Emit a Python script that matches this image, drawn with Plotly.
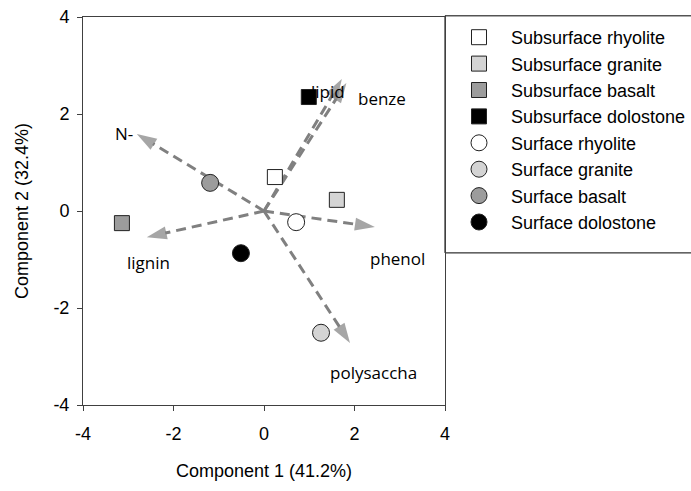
import plotly.graph_objects as go

# ---- data ----
sample_names = ["Subsurface rhyolite", "Subsurface granite", "Subsurface basalt", "Subsurface dolostone",
                "Surface rhyolite", "Surface granite", "Surface basalt", "Surface dolostone"]
sample_x = [0.24, 1.61, -3.14, 0.99, 0.71, 1.26, -1.19, -0.51]
sample_y = [0.70, 0.23, -0.25, 2.35, -0.23, -2.51, 0.58, -0.87]
sample_symbols = ["square", "square", "square", "square", "circle", "circle", "circle", "circle"]
sample_colors = ["#ffffff", "#d4d4d4", "#9c9c9c", "#000000", "#ffffff", "#d4d4d4", "#9c9c9c", "#000000"]

loading_names = ["N-", "lignin", "phenol", "polysaccha", "lipid", "benze"]
loading_x = [-2.81, -2.59, 2.45, 1.90, 1.72, 1.82]
loading_y = [1.59, -0.54, -0.33, -2.72, 2.72, 2.64]
label_x = [-3.09, -2.56, 2.96, 2.43, 1.41, 2.61]
label_y = [1.59, -1.07, -0.97, -3.34, 2.47, 2.31]

tick_vals = [-4, -2, 0, 2, 4]
tick_text = ["-4", "-2", "0", "2", "4"]

fig = go.Figure()

# loading arrows
for nm, lx, ly in zip(loading_names, loading_x, loading_y):
    fig.add_trace(go.Scatter(
        x=[0, lx], y=[0, ly], mode="lines+markers",
        line=dict(color="#808080", width=3, dash="10px,6px"),
        marker=dict(symbol=["circle", "arrow"], size=[0, 21], color="#808080",
                    angleref="previous", line=dict(width=0)),
        showlegend=False, hoverinfo="skip"))

# samples
for nm, sx, sy, sym, col in zip(sample_names, sample_x, sample_y, sample_symbols, sample_colors):
    fig.add_trace(go.Scatter(
        x=[sx], y=[sy], mode="markers", name=nm,
        marker=dict(symbol=sym, size=15 if sym == "square" else 17, color=col,
                    line=dict(color="#222222", width=1))))

for nm, tx, ty in zip(loading_names, label_x, label_y):
    fig.add_annotation(x=tx, y=ty, text=nm, showarrow=False,
                       font=dict(family="Open Sans", size=17, color="#000000"))

# legend box
fig.add_shape(type="rect", xref="paper", yref="paper", x0=1.0, x1=1.75, y0=0.392, y1=1.003,
              line=dict(color="#000000", width=1), fillcolor="rgba(0,0,0,0)", layer="below")

axis_common = dict(range=[-4, 4], tickvals=tick_vals, ticktext=tick_text, ticks="outside", ticklen=5,
                   tickcolor="#404040", showline=True, linecolor="#404040", linewidth=1, mirror=True,
                   showgrid=False, zeroline=False,
                   tickfont=dict(family="Liberation Sans", size=18, color="#000000"))

fig.update_layout(
    width=691, height=491,
    margin=dict(l=83, r=246, t=17, b=86, autoexpand=False),
    paper_bgcolor="#ffffff", plot_bgcolor="#ffffff",
    xaxis=dict(**axis_common, ticklabelstandoff=7,
               title=dict(text="Component 1 (41.2%)", standoff=21,
                          font=dict(family="Liberation Sans", size=18, color="#000000"))),
    yaxis=dict(**axis_common, ticklabelstandoff=4,
               title=dict(text="Component 2 (32.4%)", standoff=20,
                          font=dict(family="Liberation Sans", size=18, color="#000000"))),
    legend=dict(xref="container", yref="container", x=0.6469, y=0.9613,
                xanchor="left", yanchor="top", itemwidth=54,
                bgcolor="rgba(0,0,0,0)", borderwidth=0,
                font=dict(family="Liberation Sans", size=18, color="#000000")),
)

fig.write_html("out.html")
